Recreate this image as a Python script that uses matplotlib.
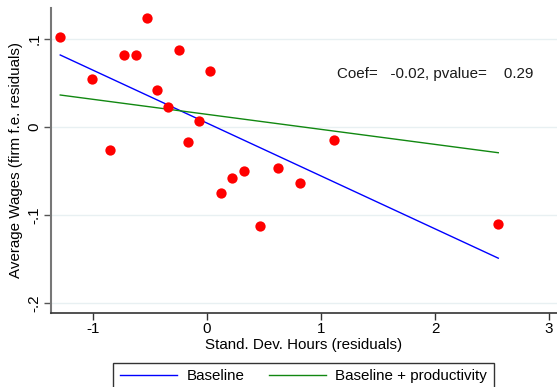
import matplotlib
matplotlib.use("Agg")
import matplotlib.pyplot as plt
import numpy as np

plt.rcParams['font.family'] = ['Liberation Sans', 'DejaVu Sans']

# Data
x_vals = [-1.287, -0.526, -0.728, -0.623, -0.248, -1.006, 0.029, -0.439, -0.342, -0.070,
          -0.848, -0.164, 0.327, 0.222, 0.126, 0.623, 0.813, 1.117, 0.465, 2.555]
y_vals = [0.1026, 0.124, 0.0815, 0.0818, 0.0879, 0.0549, 0.0636, 0.042, 0.0224, 0.0072,
          -0.0265, -0.017, -0.0504, -0.0576, -0.0754, -0.0466, -0.0633, -0.0148, -0.1125, -0.110]

line_names = ["Baseline", "Baseline + productivity"]
line_intercepts = [0.0045, 0.0144]
line_slopes = [-0.0601, -0.01707]
line_colors = ["#0000ff", "#118811"]

x_ticks = [-1, 0, 1, 2, 3]
x_tick_labels = ["-1", "0", "1", "2", "3"]
y_ticks = [-0.2, -0.1, 0.0, 0.1]
y_tick_labels = ["-.2", "-.1", "0", ".1"]

annot = "Coef=   -0.02, pvalue=    0.29"

FS = 10.9

fig = plt.figure(figsize=(5.57, 3.87), dpi=100)
ax = fig.add_axes([51/557, 1-312.7/387, 1-51/557, (312.7-8.3)/387])

ax.set_xlim(-1.368, 3.07)
ax.set_ylim(-0.211, 0.1349)

for yt in y_ticks:
    ax.axhline(yt, color="#e8f0f2", lw=1.0, zorder=0)

ax.scatter(x_vals, y_vals, s=55, color="red", zorder=3, linewidths=0)

xs = np.array([min(x_vals), max(x_vals)])
handles = []
for name, a, b, c in zip(line_names, line_intercepts, line_slopes, line_colors):
    h, = ax.plot(xs, a + b * xs, color=c, lw=1.0, label=name, zorder=2)
    handles.append(h)

ax.text(1.14, 0.060, annot, fontsize=FS, ha="left", va="center", color="#1a1a1a")

ax.set_xticks(x_ticks)
ax.set_xticklabels(x_tick_labels, fontsize=FS)
ax.set_yticks(y_ticks)
ax.set_yticklabels(y_tick_labels, fontsize=FS, rotation=90, va="center")

ax.spines["top"].set_visible(False)
ax.spines["right"].set_visible(False)
ax.spines["left"].set_color("#777777")
ax.spines["left"].set_linewidth(1.5)
ax.spines["bottom"].set_color("#333333")
ax.spines["bottom"].set_linewidth(1.2)
ax.tick_params(axis="y", direction="out", length=5, width=1.0, color="#555555", pad=2)
ax.tick_params(axis="x", direction="out", length=5, width=1.0, color="#333333", pad=2)

ax.set_xlabel("Stand. Dev. Hours (residuals)", fontsize=FS, labelpad=1)
ax.set_ylabel("Average Wages (firm f.e. residuals)", fontsize=FS, labelpad=3)

leg = fig.legend(handles=handles, labels=line_names, loc="upper left",
                 bbox_to_anchor=(113/557, 1-362.5/387), borderaxespad=0.0,
                 ncol=2, frameon=True,
                 fancybox=False, edgecolor="black", fontsize=FS, handlelength=3.8,
                 columnspacing=1.6, borderpad=0.45, handletextpad=0.6)
leg.get_frame().set_linewidth(1.0)

fig.savefig("out.png", dpi=100)
